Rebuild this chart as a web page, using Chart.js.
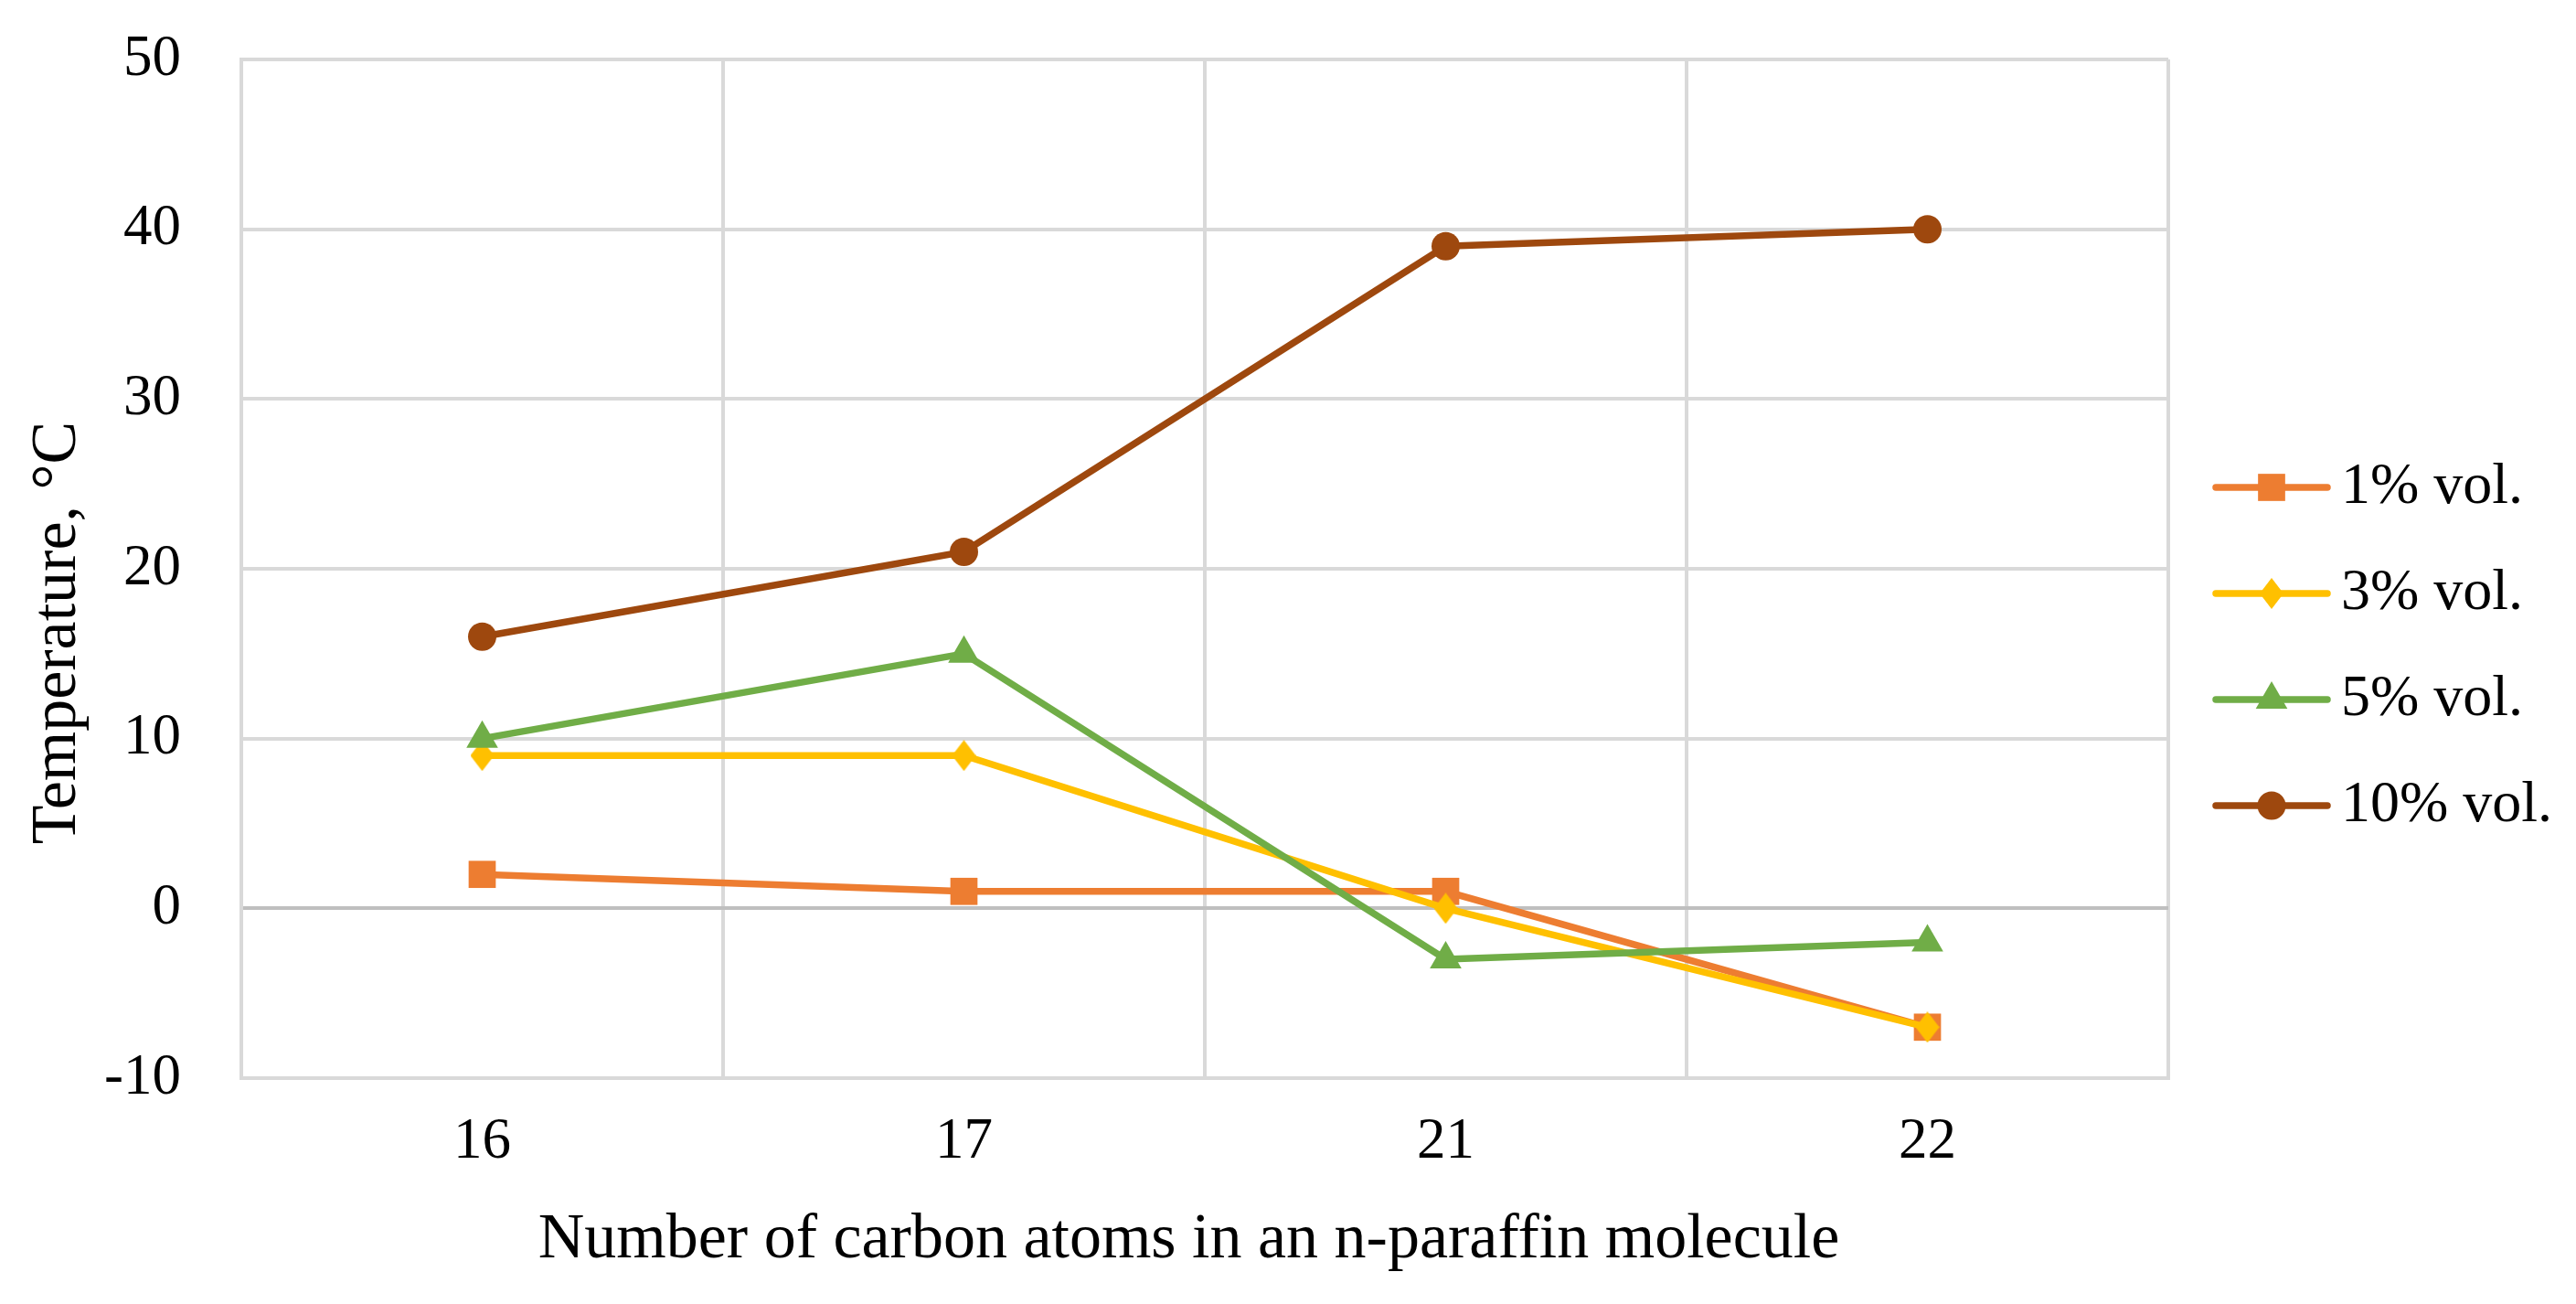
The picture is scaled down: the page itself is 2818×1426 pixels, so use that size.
<!DOCTYPE html>
<html>
<head>
<meta charset="utf-8">
<script src="https://cdn.jsdelivr.net/npm/chart.js@4.4.1/dist/chart.umd.min.js"></script>
<style>
  html, body { margin: 0; padding: 0; background: #fff; }
  #wrap { width: 2818px; height: 1426px; }
</style>
</head>
<body>
<div id="wrap"><canvas id="chart" width="2818" height="1426"></canvas></div>
<script>
// Chart values
const carbonAtoms = ['16', '17', '21', '22'];
const seriesNames = ['1% vol.', '3% vol.', '5% vol.', '10% vol.'];
const vol1 = [2, 1, 1, -7];
const vol3 = [9, 9, 0, -7];
const vol5 = [10, 15, -3, -2];
const vol10 = [16, 21, 39, 40];
const yMin = -10;
const yMax = 50;
const yStep = 10;

const FONT = '"Liberation Serif", "Times New Roman", serif';
const TICK_SIZE = 63;
const TITLE_SIZE = 70;
const LEGEND_SIZE = 64;
const NBSP = '\u00A0';

// Excel-like narrow diamond marker
function diamondMarker(color, w, h) {
    const c = document.createElement('canvas');
    c.width = w;
    c.height = h;
    const g = c.getContext('2d');
    g.fillStyle = color;
    g.beginPath();
    g.moveTo(w / 2, 0);
    g.lineTo(w, h / 2);
    g.lineTo(w / 2, h);
    g.lineTo(0, h / 2);
    g.closePath();
    g.fill();
    return c;
}

const colors = ['#ED7D31', '#FFC000', '#70AD47', '#9E480E'];
const markers = ['rect', diamondMarker('#FFC000', 26, 34), 'triangle', 'circle'];
const radii = [21, 17, 20, 15.5];
const values = [vol1, vol3, vol5, vol10];

const datasets = values.map((v, i) => ({
    label: seriesNames[i],
    data: v,
    borderColor: colors[i],
    backgroundColor: colors[i],
    borderWidth: 7.5,
    pointStyle: markers[i],
    pointRadius: radii[i],
    pointBackgroundColor: colors[i],
    pointBorderWidth: 0,
    tension: 0,
    order: values.length - 1 - i
}));

// Legend on the right: line with marker, then the name
const sideLegend = {
    id: 'sideLegend',
    afterDraw(chart) {
        const ctx = chart.ctx;
        const list = chart.data.datasets;
        const gap = 116;
        const y0 = chart.height / 2 - 6 - gap * (list.length - 1) / 2;
        list.forEach((ds, i) => {
            const y = y0 + i * gap;
            ctx.save();
            ctx.strokeStyle = ds.borderColor;
            ctx.lineWidth = ds.borderWidth;
            ctx.lineCap = 'round';
            ctx.beginPath();
            ctx.moveTo(2424, y);
            ctx.lineTo(2546, y);
            ctx.stroke();
            ctx.fillStyle = ds.pointBackgroundColor;
            Chart.helpers.drawPoint(ctx, {
                pointStyle: ds.pointStyle,
                radius: ds.pointRadius,
                rotation: 0,
                borderWidth: 0
            }, 2485, y);
            ctx.fillStyle = '#000';
            ctx.font = LEGEND_SIZE + 'px ' + FONT;
            ctx.textBaseline = 'middle';
            ctx.textAlign = 'left';
            ctx.fillText(ds.label, 2561, y);
            ctx.restore();
        });
    }
};

new Chart(document.getElementById('chart'), {
    type: 'line',
    data: { labels: carbonAtoms, datasets: datasets },
    plugins: [sideLegend],
    options: {
        responsive: false,
        animation: false,
        devicePixelRatio: 1,
        layout: { padding: { top: 65, right: 446, left: 0, bottom: 0 } },
        plugins: { legend: { display: false }, tooltip: { enabled: false } },
        scales: {
            x: {
                type: 'category',
                offset: true,
                grid: { offset: true, color: '#D9D9D9', lineWidth: 4, drawTicks: false },
                border: { color: '#D9D9D9', width: 4 },
                ticks: { color: '#000', padding: 33, font: { family: FONT, size: TICK_SIZE } },
                title: {
                    display: true,
                    // trailing spaces nudge the title a little left, as in the original
                    text: 'Number of carbon atoms in an n-paraffin molecule' + NBSP.repeat(2),
                    color: '#000',
                    font: { family: FONT, size: TITLE_SIZE },
                    padding: { top: 0, bottom: 27 }
                },
                afterFit: (s) => { s.height = 247; }
            },
            y: {
                min: yMin,
                max: yMax,
                grid: {
                    color: (c) => (c.tick && c.tick.value === 0 ? '#BFBFBF' : '#D9D9D9'),
                    lineWidth: 4,
                    drawTicks: false
                },
                border: { color: '#D9D9D9', width: 4 },
                ticks: { stepSize: yStep, color: '#000', padding: 66, font: { family: FONT, size: TICK_SIZE } },
                title: {
                    display: true,
                    // title sits lower than the plot centre in the original
                    text: 'Temperature, °C' + NBSP.repeat(8),
                    color: '#000',
                    font: { family: FONT, size: TITLE_SIZE },
                    padding: { top: 22, bottom: 0 }
                },
                afterFit: (s) => {
                    s.width = 264;
                    s.paddingTop = 0;
                    s.paddingBottom = 0;
                }
            }
        }
    }
});
</script>
</body>
</html>
